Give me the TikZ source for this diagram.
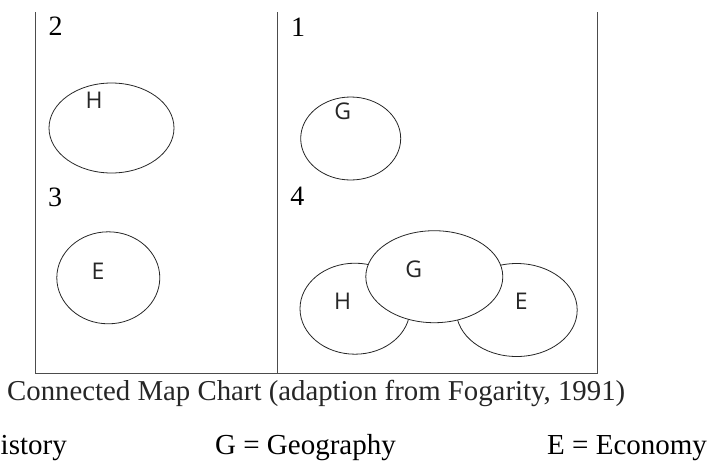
\documentclass[tikz,border=0pt]{standalone}
\usepackage{fontspec}
\setmainfont{Liberation Serif}
\newfontfamily\lettersf{Open Sans}
\usetikzlibrary{shapes.geometric}
\tikzset{
  frameline/.style={draw=black!70, line width=1pt},
  bubble/.style={ellipse, draw=black!85, line width=0.8pt, inner sep=0pt},
  numlabel/.style={inner sep=0pt, font=\fontsize{28}{30}\selectfont},
  letter/.style={inner sep=0pt, font=\lettersf\fontsize{23}{25}\selectfont, text=black!85},
  captiontext/.style={inner sep=0pt, anchor=base west, font=\fontsize{28.8}{31}\selectfont, text=black!85},
  legendtext/.style={inner sep=0pt, font=\fontsize{29}{31}\selectfont}
}
\begin{document}
\begin{tikzpicture}[x=1pt, y=-1pt]
\useasboundingbox (0,0) rectangle (711,461);
\clip (0,0) rectangle (711,461);
% frame
\coordinate (tl) at (35,12);
\coordinate (bl) at (35,373);
\coordinate (tm) at (277,12);
\coordinate (bm) at (277,373);
\coordinate (tr) at (597,12);
\coordinate (br) at (597,373);
\draw[frameline] (tl) -- (bl) -- (br) -- (tr);
\draw[frameline] (tm) -- (bm);
% quadrant numbers
\node[numlabel] (n2) at (55.5,26.5) {2};
\node[numlabel] (n1) at (298,27) {1};
\node[numlabel] (n3) at (55,197.5) {3};
\node[numlabel] (n4) at (297.3,196.5) {4};
% quadrant 2
\node[bubble, minimum width=125pt, minimum height=90pt] (h1) at (111.5,128) {};
\node[letter] (h1l) at (94,100.5) {H};
% quadrant 1
\node[bubble, minimum width=100pt, minimum height=83pt] (g1) at (350.7,138.5) {};
\node[letter] (g1l) at (342.8,111) {G};
% quadrant 3
\node[bubble, minimum width=103pt, minimum height=92pt] (e1) at (108.3,277.8) {};
\node[letter] (e1l) at (98,271) {E};
% quadrant 4
\node[bubble, minimum width=110pt, minimum height=91pt] (h4) at (355,308.7) {};
\node[bubble, minimum width=121pt, minimum height=93pt] (e4) at (516.7,310) {};
\node[bubble, fill=white, minimum width=137pt, minimum height=92pt] (g4) at (434.3,276.7) {};
\node[letter] (h4l) at (342.7,301) {H};
\node[letter] (g4l) at (413.7,269.7) {G};
\node[letter] (e4l) at (521.3,301.7) {E};
% caption
\node[captiontext] (cap) at (7,400.7) {Connected Map Chart (adaption from Fogarity, 1991)};
% legend
\node[legendtext, anchor=base east] (legh) at (67,454) {H = History};
\node[legendtext, anchor=base west] (legg) at (215,454) {G = Geography};
\node[legendtext, anchor=base west] (lege) at (547,454) {E = Economy};
\end{tikzpicture}
\end{document}
